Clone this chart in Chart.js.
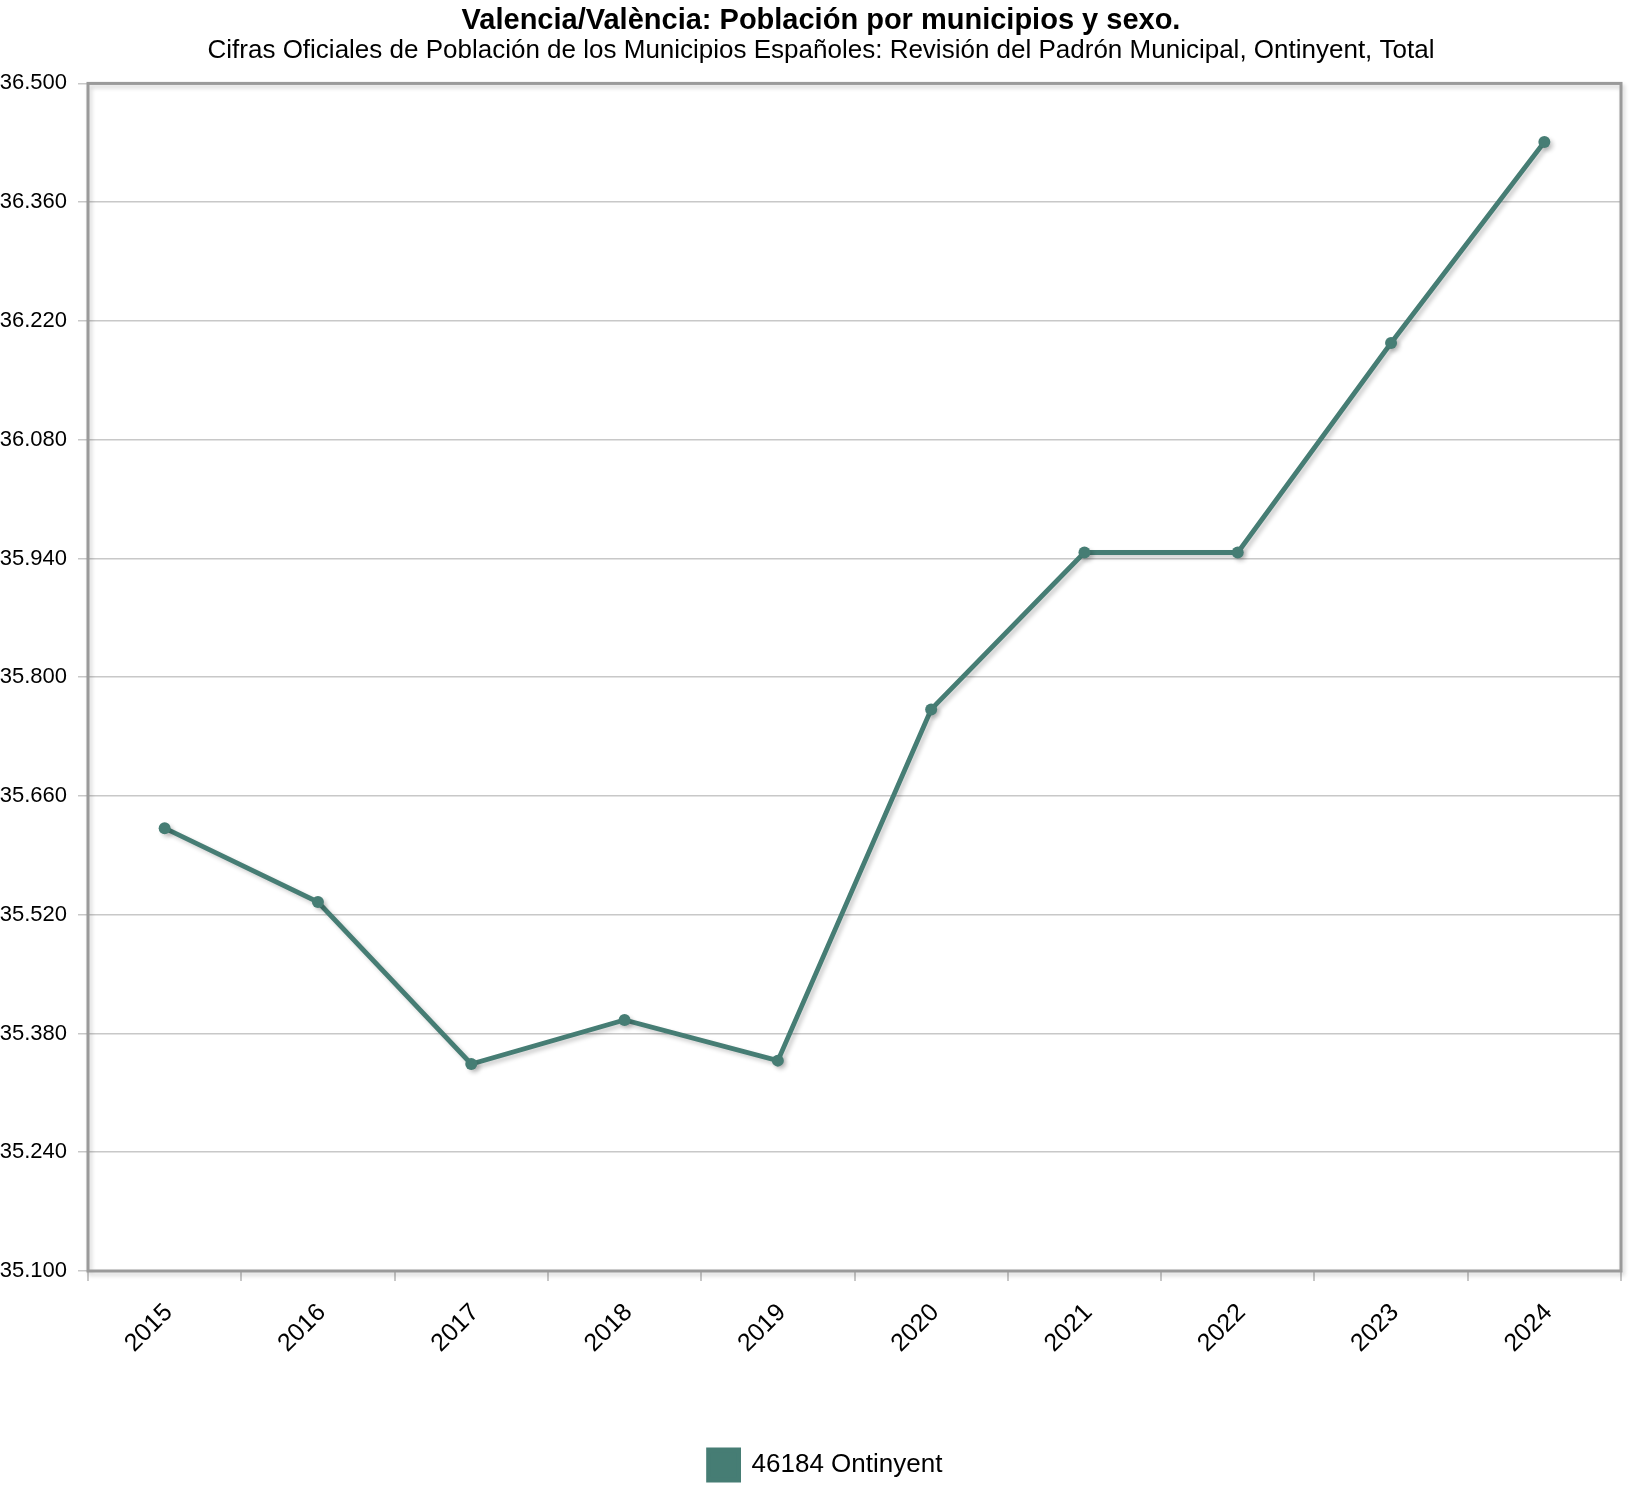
<!DOCTYPE html>
<html>
<head>
<meta charset="utf-8">
<title>Valencia/València: Población por municipios y sexo.</title>
<script src="https://cdn.jsdelivr.net/npm/chart.js@4.4.1/dist/chart.umd.min.js"></script>
<style>
  html, body { margin: 0; padding: 0; background: #fff; }
  canvas { display: block; }
</style>
</head>
<body>
<canvas id="chart" width="1642" height="1510"></canvas>
<script>
// datos
const years = ['2015', '2016', '2017', '2018', '2019', '2020', '2021', '2022', '2023', '2024'];
const population = [35622, 35535, 35344, 35396, 35348, 35762, 35947, 35947, 36194, 36431];
const yTicks = [35100, 35240, 35380, 35520, 35660, 35800, 35940, 36080, 36220, 36360, 36500];
const seriesName = '46184 Ontinyent';

const lineColor = '#467d74';
const fontFamily = '"Liberation Sans", Arial, Helvetica, sans-serif';

function fmt(v) {
  return String(v).replace(/\B(?=(\d{3})+(?!\d))/g, '.');
}

// marco gris alrededor del area del grafico + sombra de la linea
const framePlugin = {
  id: 'frame',
  afterLayout(chart) {
    // titulos centrados en el lienzo, leyenda algo a la derecha
    chart.boxes.forEach(b => {
      if (b.options && b.options.position === 'top') b.left += 21;
    });
    chart.legend.left += 30;
  },
  beforeDatasetsDraw(chart) {
    const a = chart.chartArea;
    const ctx = chart.ctx;
    ctx.save();
    ctx.shadowColor = 'rgba(0,0,0,0.18)';
    ctx.shadowBlur = 4;
    ctx.shadowOffsetX = 2;
    ctx.shadowOffsetY = 3;
    ctx.strokeStyle = '#9a9a9a';
    ctx.lineWidth = 3;
    ctx.strokeRect(a.left, a.top, a.right - a.left, a.bottom - a.top);
    ctx.restore();

    ctx.save();
    ctx.shadowColor = 'rgba(0,0,0,0.2)';
    ctx.shadowBlur = 4;
    ctx.shadowOffsetX = 3;
    ctx.shadowOffsetY = 3;
  },
  afterDatasetsDraw(chart) {
    chart.ctx.restore();
  }
};

new Chart(document.getElementById('chart'), {
  type: 'line',
  data: {
    labels: years,
    datasets: [{
      label: seriesName,
      data: population,
      borderColor: lineColor,
      backgroundColor: lineColor,
      borderWidth: 4.8,
      pointRadius: 6,
      pointBackgroundColor: lineColor,
      pointBorderWidth: 0,
      tension: 0
    }]
  },
  options: {
    responsive: false,
    animation: false,
    layout: {
      padding: { left: 0, right: 21, top: 0, bottom: 20 }
    },
    plugins: {
      title: {
        display: true,
        text: 'Valencia/València: Población por municipios y sexo.',
        color: '#000',
        font: { family: fontFamily, size: 29, weight: 'bold', lineHeight: 1.1 },
        padding: { top: 5, bottom: 0 }
      },
      subtitle: {
        display: true,
        text: 'Cifras Oficiales de Población de los Municipios Españoles: Revisión del Padrón Municipal, Ontinyent, Total',
        color: '#000',
        font: { family: fontFamily, size: 26, lineHeight: 1.0 },
        padding: { top: 1, bottom: 19.5 }
      },
      legend: {
        position: 'bottom',
        labels: {
          color: '#000',
          font: { family: fontFamily, size: 26 },
          boxWidth: 30,
          boxHeight: 30,
          padding: 10
        }
      },
      tooltip: { enabled: false }
    },
    scales: {
      x: {
        offset: true,
        border: { display: false },
        grid: {
          offset: true,
          drawOnChartArea: false,
          drawTicks: true,
          tickLength: 10,
          color: '#c8c8c8',
          lineWidth: 2
        },
        ticks: {
          color: '#000',
          font: { family: fontFamily, size: 25 },
          minRotation: 45,
          maxRotation: 45,
          padding: 17,
          labelOffset: 4
        },
        afterFit(scale) {
          scale.height = 169;
        }
      },
      y: {
        min: 35100,
        max: 36500,
        border: { display: false },
        grid: {
          color: '#c8c8c8',
          lineWidth: 1.5,
          tickLength: 10
        },
        afterBuildTicks(scale) {
          scale.ticks = yTicks.map(v => ({ value: v }));
        },
        ticks: {
          color: '#000',
          font: { family: fontFamily, size: 22 },
          padding: 11,
          callback: v => fmt(v)
        },
        afterFit(scale) {
          scale.width = 88;
        }
      }
    }
  },
  plugins: [framePlugin]
});
</script>
</body>
</html>
